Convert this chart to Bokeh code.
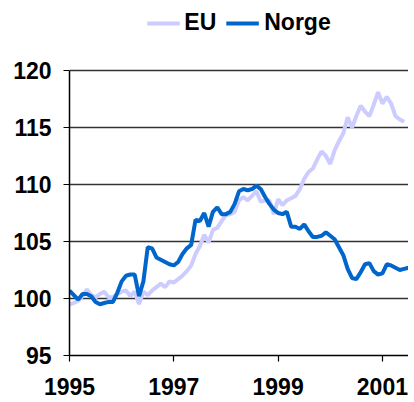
from bokeh.plotting import figure
from bokeh.models import Legend, LegendItem, FixedTicker, Range1d
from bokeh.embed import file_html
from bokeh.resources import INLINE

# Monthly index, Jan 1995 onwards
norge = [100.7, 100.3, 99.9, 100.4, 100.4, 100.2, 99.7, 99.5, 99.6, 99.7, 99.7, 100.5,
         101.5, 102.0, 102.1, 102.1, 100.2, 101.5, 104.5, 104.4, 103.6, 103.4, 103.2, 103.0,
         102.9, 103.2, 103.9, 104.4, 104.7, 106.9, 106.8, 107.5, 106.3, 107.6, 108.0, 107.4,
         107.4, 107.6, 108.3, 109.4, 109.6, 109.5, 109.6, 109.9, 109.6, 108.9, 108.3, 107.8,
         107.5, 107.4, 107.6, 106.3, 106.3, 106.1, 106.5, 105.9, 105.4, 105.4, 105.5, 105.8,
         105.5, 105.2, 104.5, 103.8, 102.6, 101.8, 101.7, 102.3, 103.0, 103.1, 102.4, 102.1,
         102.2, 103.0, 102.9, 102.7, 102.5, 102.6, 102.7]
eu = [99.5, 99.6, 99.8, 100.2, 100.8, 100.3, 100.1, 100.4, 100.6, 100.1, 100.1, 100.4,
      100.6, 100.7, 100.2, 100.6, 99.5, 100.6, 100.3, 100.7, 101.0, 101.3, 101.0, 101.5,
      101.4, 101.7, 102.0, 102.4, 102.9, 103.9, 104.6, 105.6, 104.9, 106.0, 106.2, 106.8,
      107.3, 107.4, 107.6, 108.6, 108.9, 108.6, 109.0, 109.4, 108.5, 108.6, 108.6, 107.4,
      108.7, 108.2, 108.6, 108.8, 109.0, 109.6, 110.5, 111.1, 111.4, 112.2, 112.9, 112.5,
      111.8, 113.0, 113.8, 114.5, 115.9, 115.0, 116.0, 116.9, 116.4, 116.0, 117.0, 118.1,
      117.1, 117.7, 117.1, 116.0, 115.7, 115.5]
start_year = 1995
x_ticks = [1995, 1997, 1999, 2001]
y_ticks = [95, 100, 105, 110, 115, 120]
grid_ticks = [100, 105, 110, 115, 120]
labels = ["EU", "Norge"]

x_norge = [start_year + i / 12 for i in range(len(norge))]
x_eu = [start_year + i / 12 for i in range(len(eu))]

FONT = "Liberation Sans"

p = figure(width=408, height=398, output_backend="svg", toolbar_location=None,
           x_range=Range1d(1995, 2001.5), y_range=Range1d(95, 125.35),
           min_border_left=69, min_border_right=0, min_border_top=9, min_border_bottom=43)
p.outline_line_color = None
p.background_fill_color = "white"
p.border_fill_color = "white"

r_eu = p.line(x_eu, eu, line_color="#CCCCFF", line_width=4)
r_no = p.line(x_norge, norge, line_color="#0066CC", line_width=4)

p.xgrid.visible = False
p.ygrid.ticker = FixedTicker(ticks=grid_ticks)
p.ygrid.grid_line_color = "#333333"
p.ygrid.grid_line_width = 1.5

for ax in (p.xaxis[0], p.yaxis[0]):
    ax.axis_line_color = "black"
    ax.axis_line_width = 1.5
    ax.major_tick_line_color = "black"
    ax.major_tick_line_width = 1.2
    ax.major_tick_in = 0
    ax.major_tick_out = 6
    ax.minor_tick_line_color = None
    ax.major_label_text_font = FONT
    ax.major_label_text_font_style = "bold"
    ax.major_label_text_color = "black"
    ax.major_label_text_font_size = "23px"

p.yaxis.bounds = (95, 120)
p.xaxis.ticker = FixedTicker(ticks=x_ticks)
p.yaxis.ticker = FixedTicker(ticks=y_ticks)
p.yaxis.major_label_text_font_style = "bold"
p.xaxis.major_label_text_font_style = "bold"
p.yaxis.major_label_standoff = 12
p.xaxis.major_label_standoff = 16

legend = Legend(items=[LegendItem(label=labels[0], renderers=[r_eu]),
                       LegendItem(label=labels[1], renderers=[r_no])],
                orientation="horizontal", location="top_center",
                label_text_font=FONT, label_text_font_style="bold",
                label_text_font_size="23px", label_text_color="black",
                glyph_width=33, glyph_height=20, label_standoff=5, spacing=10,
                border_line_color=None, background_fill_alpha=0,
                padding=2, margin=0)
p.add_layout(legend)

open("out.html", "w").write(file_html(p, INLINE))
